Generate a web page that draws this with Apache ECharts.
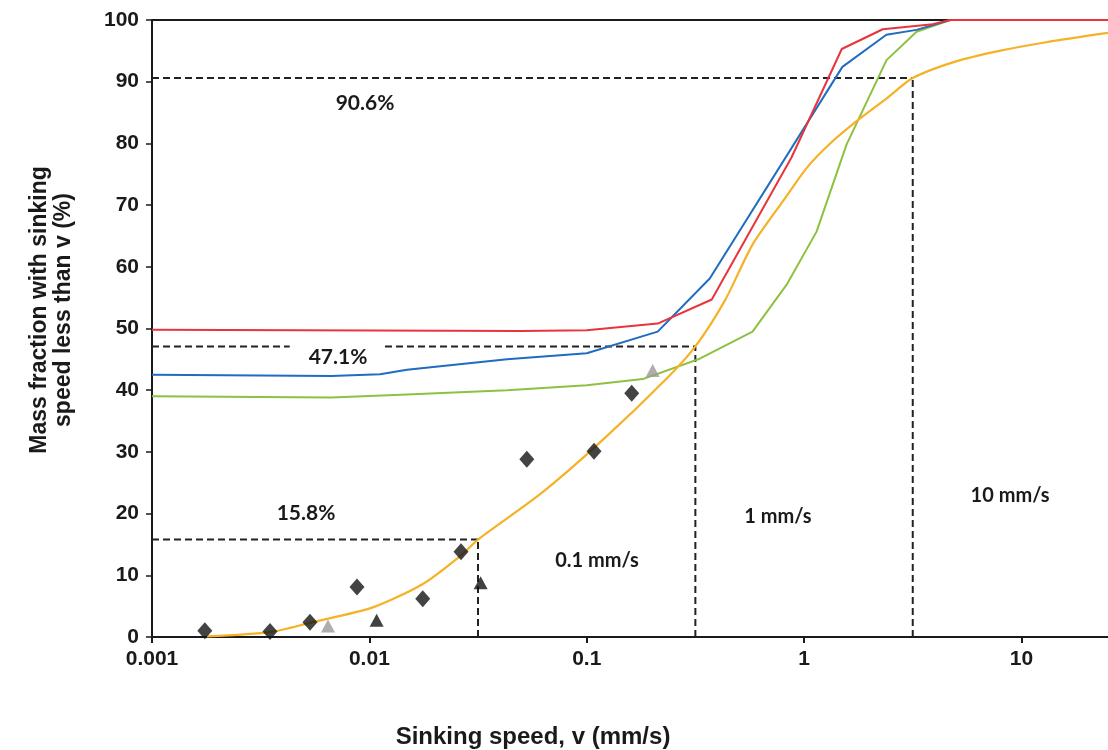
<!DOCTYPE html>
<html><head><meta charset="utf-8">
<script src="https://cdn.jsdelivr.net/npm/echarts@6/dist/echarts.min.js"></script>
<style>html,body{margin:0;padding:0;background:#fff}#c{width:1108px;height:750px}</style>
</head><body><div id="c"></div>
<script>
// ---- data ----
const xTickValues = [0.001, 0.01, 0.1, 1, 10];
const xTickLabels = ['0.001', '0.01', '0.1', '1', '10'];

const topX = [0.001, 25];
const topY = [100, 100];

const redX = [0.001, 0.05, 0.1, 0.212, 0.376, 0.877, 1.49, 2.3, 3.9, 4.7, 25];
const redY = [49.8, 49.6, 49.7, 50.8, 54.7, 77.8, 95.3, 98.5, 99.3, 100, 100];

const blueX = [0.001, 0.0067, 0.0112, 0.0149, 0.043, 0.1, 0.212, 0.368, 1.5, 2.39, 3.29, 4.7];
const blueY = [42.5, 42.3, 42.6, 43.3, 45.0, 46.0, 49.5, 58.1, 92.4, 97.6, 98.4, 100];

const greenX = [0.001, 0.0067, 0.0149, 0.043, 0.1, 0.181, 0.331, 0.579, 0.831, 1.141, 1.567, 2.394, 3.29, 4.7];
const greenY = [39.0, 38.8, 39.3, 40.0, 40.8, 41.8, 45.1, 49.5, 57.1, 65.7, 79.8, 93.5, 98.1, 100];

const yellowX = [0.00179, 0.00349, 0.00533, 0.01038, 0.01762, 0.02635, 0.0316, 0.0608, 0.1148, 0.2333, 0.316, 0.433, 0.579, 0.813, 1.026, 1.31, 1.743, 2.4, 3.16, 5.0, 7.92, 13, 25];
const yellowY = [0.1, 0.8, 2.3, 4.8, 8.6, 13.2, 15.8, 23.1, 31.5, 41.9, 47.1, 54.6, 63.6, 71.0, 76.0, 79.9, 83.6, 87.3, 90.6, 93.3, 95.0, 96.4, 97.9];

const diamondX = [0.00175, 0.00349, 0.00533, 0.00877, 0.0176, 0.0264, 0.053, 0.108, 0.161];
const diamondY = [1.0, 0.9, 2.4, 8.1, 6.2, 13.8, 28.8, 30.1, 39.5];

const blackTriX = [0.0108, 0.0325];
const blackTriY = [2.7, 8.8];

const grayTriX = [0.00645, 0.201];
const grayTriY = [1.8, 43.2];

// dashed guide segments: [x0, x1], [y0, y1]
const guideSegments = [
  [[0.001, 0.0316], [15.8, 15.8]],
  [[0.0316, 0.0316], [0, 15.8]],
  [[0.001, 0.0043], [47.1, 47.1]],
  [[0.0118, 0.316], [47.1, 47.1]],
  [[0.316, 0.316], [0, 47.1]],
  [[0.001, 3.16], [90.6, 90.6]],
  [[3.16, 3.16], [0, 90.6]]
];

const annotations = ['90.6%', '47.1%', '15.8%', '0.1 mm/s', '1 mm/s', '10 mm/s'];

// ---- chart ----
function zip(xs, ys) { return xs.map((x, i) => [x, ys[i]]); }

const chart = echarts.init(document.getElementById('c'), null, {renderer: 'canvas'});

const series = [];
guideSegments.forEach(seg => {
  series.push({
    type: 'line', data: zip(seg[0], seg[1]), symbol: 'none', silent: true,
    lineStyle: {color: '#222', width: 2, type: [7, 4]}, z: 2
  });
});
series.push({type: 'line', data: zip(topX, topY), symbol: 'none', lineStyle: {color: '#1a1a1a', width: 2}, z: 3});
series.push({type: 'line', data: zip(greenX, greenY), symbol: 'none', lineStyle: {color: '#8dc13f', width: 2}, z: 4});
series.push({type: 'line', data: zip(blueX, blueY), symbol: 'none', lineStyle: {color: '#1f6cc0', width: 2}, z: 4});
series.push({type: 'line', data: zip(redX, redY), symbol: 'none', lineStyle: {color: '#e8343c', width: 2}, z: 5});
series.push({type: 'line', data: zip(yellowX, yellowY), symbol: 'none', smooth: 0.25, lineStyle: {color: '#f5b226', width: 2.2}, z: 6});
series.push({type: 'scatter', data: zip(diamondX, diamondY), symbol: 'diamond', symbolSize: [15, 17], itemStyle: {color: '#141414'}, z: 8});
series.push({type: 'scatter', data: zip(blackTriX, blackTriY), symbol: 'triangle', symbolSize: [14, 13], itemStyle: {color: '#111'}, z: 8});
series.push({type: 'scatter', data: zip(grayTriX, grayTriY), symbol: 'triangle', symbolSize: [14, 13], itemStyle: {color: '#9a9a9a'}, z: 8});

const annoPos = [[365, 103], [338, 357], [306, 513], [597, 561], [778, 517], [1010, 496]];
const graphics = annotations.map((t, i) => ({
  type: 'text', x: annoPos[i][0], y: annoPos[i][1], z: 20,
  style: {text: t, font: 'bold ' + (i < 3 ? '21px' : '20px') + ' Lato', fill: '#1a1a1a', textAlign: 'center', textVerticalAlign: 'middle'}
}));
graphics.push({
  type: 'text', x: 533, y: 737, z: 20,
  style: {text: 'Sinking speed, v (mm/s)', font: 'bold 24px "Liberation Sans"', fill: '#1a1a1a', textAlign: 'center', textVerticalAlign: 'middle'}
});
graphics.push({
  type: 'text', x: 52, y: 310, rotation: Math.PI / 2, z: 20,
  style: {text: 'Mass fraction with sinking\nspeed less than v (%)', font: 'bold 23px "Liberation Sans"', lineHeight: 24, fill: '#1a1a1a', textAlign: 'center', textVerticalAlign: 'middle'}
});

chart.setOption({
  animation: false,
  backgroundColor: '#fff',
  grid: {left: 152, right: 0, top: 20, bottom: 113, containLabel: false},
  xAxis: {
    type: 'log', logBase: 10, min: 0.001, max: 25,
    axisLine: {show: true, lineStyle: {color: '#1a1a1a', width: 2}},
    axisTick: {show: true, inside: false, length: 6, lineStyle: {color: '#1a1a1a', width: 2}},
    minorTick: {show: false},
    splitLine: {show: false},
    axisLabel: {
      show: true, margin: 12, color: '#1a1a1a', fontFamily: 'Liberation Sans', fontWeight: 'bold', fontSize: 21,
      showMaxLabel: false,
      formatter: function (v) {
        for (let i = 0; i < xTickValues.length; i++) {
          if (Math.abs(Math.log10(v) - Math.log10(xTickValues[i])) < 1e-6) return xTickLabels[i];
        }
        return '';
      }
    }
  },
  yAxis: {
    type: 'value', min: 0, max: 100, interval: 10,
    axisLine: {show: true, lineStyle: {color: '#1a1a1a', width: 2}},
    axisTick: {show: true, inside: false, length: 6, lineStyle: {color: '#1a1a1a', width: 1.5}},
    splitLine: {show: false},
    axisLabel: {margin: 13, color: '#1a1a1a', fontFamily: 'Liberation Sans', fontWeight: 'bold', fontSize: 21}
  },
  graphic: graphics,
  series: series
});
</script>
</body></html>
